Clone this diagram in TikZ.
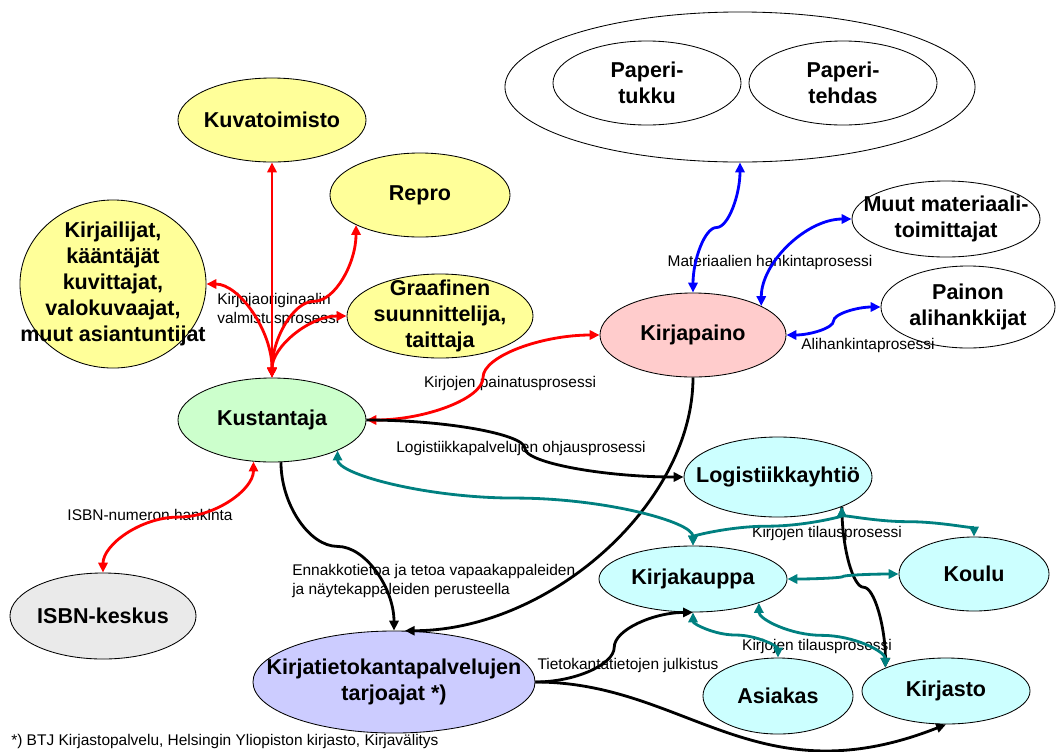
\documentclass[tikz,border=0pt]{standalone}
\usepackage{fontspec}
\setmainfont{Liberation Sans}
\usetikzlibrary{shapes.geometric,arrows.meta,calc}

\definecolor{kelta}{HTML}{FFFF99}
\definecolor{vihrea}{HTML}{CCFFCC}
\definecolor{puna}{HTML}{FFCCCC}
\definecolor{turkoosi}{HTML}{CCFFFF}
\definecolor{violetti}{HTML}{CCCCFF}
\definecolor{harmaa}{HTML}{EAEAEA}
\definecolor{sinivihrea}{HTML}{008080}

\begin{document}
\begin{tikzpicture}[x=0.025cm,y=-0.025cm,
        toimija/.style={ellipse,draw=black,line width=0.6pt,inner sep=-1cm,align=center,
            font=\fontsize{15.3}{18.5}\selectfont\bfseries},
        selite/.style={inner sep=0pt,align=left,font=\fontsize{11}{13.5}\selectfont},
        yhteys/.style={line width=2pt,>={Triangle[length=7pt,width=6.5pt]}},
        vh/.style={to path={let \p1=(\tikztostart), \p2=(\tikztotarget) in
            .. controls (\x1,{0.5*\y1+0.5*\y2}) and ({0.5*\x1+0.5*\x2},\y2) .. (\tikztotarget)}},
        vhv/.style={to path={let \p1=(\tikztostart), \p2=(\tikztotarget) in
            .. controls (\x1,{0.75*\y1+0.25*\y2}) and ({0.75*\x1+0.25*\x2},{0.5*\y1+0.5*\y2})
            .. ({0.5*\x1+0.5*\x2},{0.5*\y1+0.5*\y2})
            .. controls ({0.25*\x1+0.75*\x2},{0.5*\y1+0.5*\y2}) and (\x2,{0.25*\y1+0.75*\y2})
            .. (\tikztotarget)}},
        hvh/.style={to path={let \p1=(\tikztostart), \p2=(\tikztotarget) in
            .. controls ({0.75*\x1+0.25*\x2},\y1) and ({0.5*\x1+0.5*\x2},{0.75*\y1+0.25*\y2})
            .. ({0.5*\x1+0.5*\x2},{0.5*\y1+0.5*\y2})
            .. controls ({0.5*\x1+0.5*\x2},{0.25*\y1+0.75*\y2}) and ({0.25*\x1+0.75*\x2},\y2)
            .. (\tikztotarget)}}]

        \useasboundingbox (0,0) rectangle (1056,751);

        \node[toimija,fill=white,minimum width=11.75cm,minimum height=3.75cm] (paperi) at (740,87) {};
        \node[toimija,fill=white,minimum width=4.7cm,minimum height=2.1cm] (tukku) at (647,83) {Paperi-\\tukku};
        \node[toimija,fill=white,minimum width=4.7cm,minimum height=2.1cm] (tehdas) at (843,83) {Paperi-\\tehdas};

        \node[toimija,fill=kelta,minimum width=4.7cm,minimum height=2.1cm] (kuvatoimisto) at (272,120) {Kuvatoimisto};
        \node[toimija,fill=kelta,minimum width=4.5cm,minimum height=2.1cm] (repro) at (420,195) {Repro};
        \node[toimija,fill=kelta,minimum width=4.65cm,minimum height=4.2cm] (kirjailijat) at (113,284) {Kirjailijat,\\kääntäjät\\kuvittajat,\\valokuvaajat,\\muut asiantuntijat};
        \node[toimija,fill=kelta,minimum width=4.65cm,minimum height=2.1cm] (graafinen) at (440,316) {Graafinen\\suunnittelija,\\taittaja};

        \node[toimija,fill=vihrea,minimum width=4.7cm,minimum height=2.1cm] (kustantaja) at (272,420) {Kustantaja};
        \node[toimija,fill=puna,minimum width=4.65cm,minimum height=2.1cm] (kirjapaino) at (693,335) {Kirjapaino};
        \node[toimija,fill=harmaa,minimum width=4.65cm,minimum height=2.15cm] (isbn) at (103,616) {ISBN-keskus};
        \node[toimija,fill=violetti,minimum width=7.05cm,minimum height=2.55cm] (tietokanta) at (394,682) {Kirjatietokantapalvelujen\\tarjoajat *)};

        \node[toimija,fill=white,minimum width=4.7cm,minimum height=1.9cm] (muut) at (946,219) {Muut materiaali-\\toimittajat};
        \node[toimija,fill=white,minimum width=4.35cm,minimum height=2.05cm] (painon) at (968,307) {Painon\\alihankkijat};

        \node[toimija,fill=turkoosi,minimum width=4.7cm,minimum height=2cm] (logistiikka) at (778,477) {Logistiikkayhtiö};
        \node[toimija,fill=turkoosi,minimum width=4.7cm,minimum height=1.65cm] (kirjakauppa) at (693,579) {Kirjakauppa};
        \node[toimija,fill=turkoosi,minimum width=3.75cm,minimum height=1.85cm] (koulu) at (974,574) {Koulu};
        \node[toimija,fill=turkoosi,minimum width=3.75cm,minimum height=1.9cm] (asiakas) at (778,696) {Asiakas};
        \node[toimija,fill=turkoosi,minimum width=4.2cm,minimum height=1.65cm] (kirjasto) at (946,691) {Kirjasto};

        \node[selite,anchor=west] (valmistus) at (217,310) {Kirjojaoriginaalin\\valmistusprosessi};
        \node[selite] (painatus) at (510,383) {Kirjojen painatusprosessi};
        \node[selite] (ohjaus) at (521,448) {Logistiikkapalvelujen ohjausprosessi};
        \node[selite] (hankinta) at (150,515) {ISBN-numeron hankinta};
        \node[selite,anchor=west] (ennakko) at (292,581) {Ennakkotietoa ja tetoa vapaakappaleiden\\ja näytekappaleiden perusteella};
        \node[selite] (julkistus) at (628,665) {Tietokantatietojen julkistus};
        \node[selite] (materiaalit) at (770,262) {Materiaalien hankintaprosessi};
        \node[selite] (alihankinta) at (868,345) {Alihankintaprosessi};
        \node[selite] (tilaus) at (827,533) {Kirjojen tilausprosessi};
        \node[selite] (tilaus2) at (817,646) {Kirjojen tilausprosessi};
        \node[selite,anchor=base west] (alaviite) at (11,745) {*) BTJ Kirjastopalvelu, Helsingin Yliopiston kirjasto, Kirjavälitys};

        \draw[yhteys,red,<->] (kustantaja.north) -- (kuvatoimisto.south);
        \draw[yhteys,red,<->] (kustantaja.north) to[vh] (kirjailijat.east);
        \draw[yhteys,red,<->] (kustantaja.north) to[vhv] (repro.south west);
        \draw[yhteys,red,<->] (kustantaja.north) to[vh] (graafinen.west);
        \draw[yhteys,red,<->] (kustantaja.east) to[hvh] (kirjapaino.west);
        \draw[yhteys,red,<->] (kustantaja.-114) to[vhv] (isbn.north);

        \draw[yhteys,blue,<->] (kirjapaino.north) to[vhv] (paperi.south);
        \draw[yhteys,blue,<->] (kirjapaino.23) to[vh] (muut.west);
        \draw[yhteys,blue,<->] (kirjapaino.east) to[hvh] (painon.west);

        \draw[yhteys,->] (kustantaja.east) to[hvh] (logistiikka.west);
        \draw[yhteys,->] (kustantaja.-78) to[vhv] (tietokanta.north);
        \draw[yhteys,->] (kirjapaino.south) to[vh] (tietokanta.78);
        \draw[yhteys,->] (tietokanta.east) to[hvh] (kirjakauppa.south);
        \draw[yhteys,->] (tietokanta.east) .. controls +(150,0) and +(-190,75) .. (kirjasto.south);
        \draw[yhteys,->] (logistiikka.-25) to[vhv] (kirjasto.159);

        \draw[yhteys,sinivihrea,<->] (kustantaja.-25) to[vhv] (kirjakauppa.north);
        \draw[yhteys,sinivihrea,<->] (logistiikka.-25) to[vhv] (kirjakauppa.north);
        \draw[yhteys,sinivihrea,<->] (logistiikka.-25) to[vhv] (koulu.north);
        \draw[yhteys,sinivihrea,<->] (kirjakauppa.east) to[hvh] (koulu.west);
        \draw[yhteys,sinivihrea,<->] (kirjakauppa.south) to[vhv] (asiakas.north);
        \draw[yhteys,sinivihrea,<->] (kirjakauppa.-20) to[vhv] (kirjasto.159);
    \end{tikzpicture}
\end{document}
